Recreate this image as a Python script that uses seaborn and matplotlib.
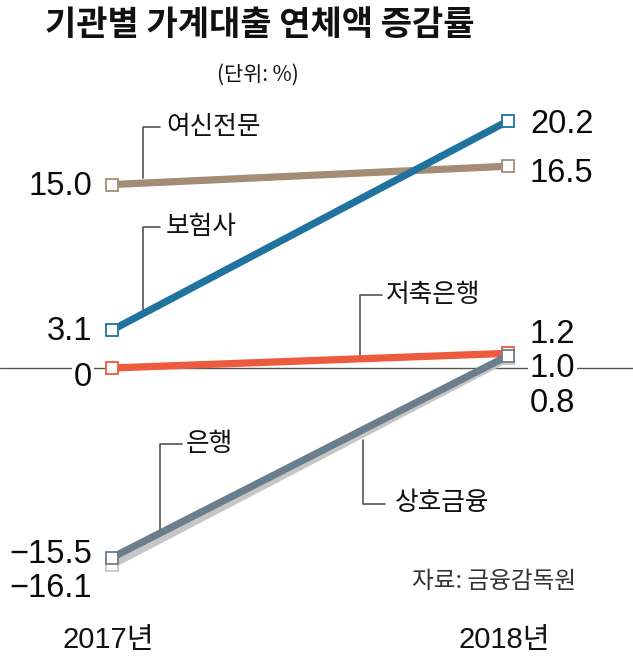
import matplotlib
matplotlib.use("Agg")
import matplotlib.pyplot as plt
import seaborn as sns
import pandas as pd

sns.set_theme(style="white")
plt.rcParams['font.family'] = ['Noto Sans CJK KR', 'DejaVu Sans']

# ---- data ----
years = ["2017년", "2018년"]
series = ["여신전문", "보험사", "저축은행", "상호금융", "은행"]
v2017 = [15.0, 3.1, 0.0, -16.1, -15.5]
v2018 = [16.5, 20.2, 1.2, 0.8, 1.0]
colors = ["#a58c76", "#20729f", "#ee5a3d", "#c6c6c6", "#6a7e8c"]
left_labels = ["15.0", "3.1", "0", "−16.1", "−15.5"]
right_labels = ["16.5", "20.2", "1.2", "0.8", "1.0"]
title = "기관별 가계대출 연체액 증감률"
unit = "(단위: %)"
source = "자료: 금융감독원"

rows = []
for s, a, b in zip(series, v2017, v2018):
    rows.append({"series": s, "x": 0, "v": a})
    rows.append({"series": s, "x": 1, "v": b})
df = pd.DataFrame(rows)

W, H = 633, 660
fig = plt.figure(figsize=(W / 100, H / 100), dpi=100)
ax = fig.add_axes([0, 0, 1, 1])

# pixel mapping: x=0 -> 112px, x=1 -> 508px ; v=0 -> 368px, 12.23 px per unit
X0, XS = 112.0, 396.0
Y0, YS = 368.0, 12.23
ax.set_xlim(-X0 / XS, (W - X0) / XS)
ax.set_ylim((Y0 - H) / YS, Y0 / YS)
ax.axis("off")


def px(x, y):
    return (x - X0) / XS, (Y0 - y) / YS


# zero line + small tick
ax.axhline(0, color="#555555", lw=1.0, zorder=1)
ax.plot([0, 0], [0, 0.6], color="#555555", lw=1.0, zorder=1)

sns.lineplot(data=df, x="x", y="v", hue="series", hue_order=series,
             palette=dict(zip(series, colors)), linewidth=5.2,
             marker="s", markersize=8, markerfacecolor="white",
             markeredgewidth=1.3, legend=False, ax=ax, zorder=3)
for ln in ax.lines[2:]:
    ln.set_markeredgecolor(ln.get_color())
    ln.set_solid_capstyle("butt")

ax.set_xlim(-X0 / XS, (W - X0) / XS)
ax.set_ylim((Y0 - H) / YS, Y0 / YS)

numfont = ["Liberation Sans", "DejaVu Sans"]
# baseline offsets (pixels, downward) relative to marker
left_off = [10.5, 10, 18, 32, 5]
right_off = [16, 12, -10, 54, 21]
mask = {"0", "1.0"}
for i in range(len(series)):
    for xv, val, lab, off, dx, ha in [(0, v2017[i], left_labels[i], left_off[i], -20, "right"),
                                      (1, v2018[i], right_labels[i], right_off[i], 22, "left")]:
        kw = {}
        if lab in mask:
            kw["bbox"] = dict(facecolor="white", edgecolor="none", pad=1.5)
        ax.annotate(lab, (xv, val), xytext=(dx, -off), textcoords="offset pixels",
                    ha=ha, va="baseline", fontsize=23.5, family=numfont,
                    color="#0a0a0a", zorder=5, **kw)

# leader lines and series names (pixel layout)
leaders = {
    "여신전문": ([(143, 178), (143, 127), (160, 127)], (166, 127)),
    "보험사": ([(143, 310), (143, 227), (160, 227)], (166, 227)),
    "저축은행": ([(360, 357), (360, 295), (382, 295)], (386, 295)),
    "은행": ([(160, 530), (160, 444), (182, 444)], (186, 444)),
    "상호금융": ([(363, 440), (363, 504), (385, 504)], (395, 503)),
}
for name, (pts, tpos) in leaders.items():
    xs, ys = zip(*[px(*p) for p in pts])
    ax.plot(xs, ys, color="#555555", lw=1.2, zorder=2)
    tx, ty = px(*tpos)
    ax.text(tx, ty, name, ha="left", va="center", fontsize=18.5, color="#111111", zorder=5)

# year labels
for xv, yl in zip([0, 1], years):
    x_, y_ = xv, px(0, 640)[1]
    ax.text(x_ - 0.01, y_, yl, ha="center", va="center", fontsize=21,
            family=["Liberation Sans", "Noto Sans CJK KR"], color="#111111")

# source
sx, sy = px(412, 582)
ax.text(sx, sy, source, ha="left", va="center", fontsize=17, color="#333333")

# title and unit
fig.text(260 / W, 1 - 25 / H, title, ha="center", va="center", fontsize=24.5,
         fontweight="bold", color="#111111")
fig.text(258 / W, 1 - 75 / H, unit, ha="center", va="center", fontsize=15, color="#111111")

fig.savefig("out.png", dpi=100, facecolor="white")
